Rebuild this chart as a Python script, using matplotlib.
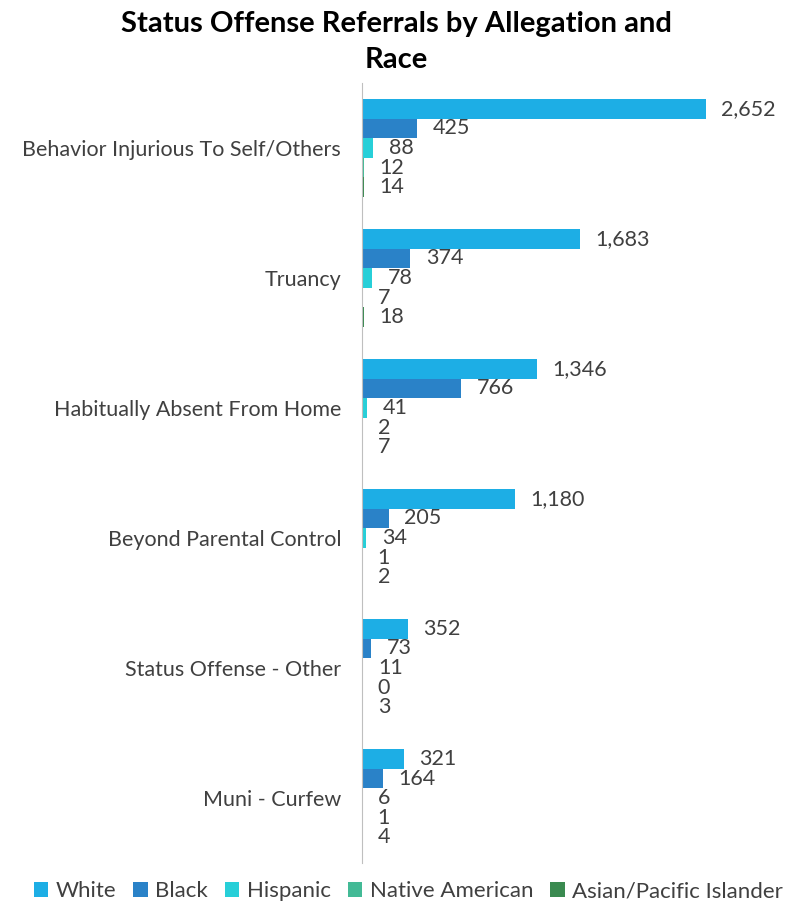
import matplotlib.pyplot as plt
import numpy as np

plt.rcParams['font.family'] = ['Lato', 'DejaVu Sans']

allegations = ['Behavior Injurious To Self/Others', 'Truancy',
               'Habitually Absent From Home', 'Beyond Parental Control',
               'Status Offense - Other', 'Muni - Curfew']
races = ['White', 'Black', 'Hispanic', 'Native American',
         'Asian/Pacific Islander']
white = [2652, 1683, 1346, 1180, 352, 321]
black = [425, 374, 766, 205, 73, 164]
hispanic = [88, 78, 41, 34, 11, 6]
native_american = [12, 7, 2, 1, 0, 1]
asian_pi = [14, 18, 7, 2, 3, 4]
colors = ['#1DAEE5', '#2A82C8', '#27CFD8', '#43BA96', '#3A8A50']

series = [white, black, hispanic, native_american, asian_pi]

fig = plt.figure(figsize=(7.93, 9.05), dpi=100)
ax = fig.add_axes([362 / 793, 1 - 863 / 905, (751 - 362) / 793, 780 / 905])

y = np.arange(len(allegations))
h = 0.15
for i, (name, vals, c) in enumerate(zip(races, series, colors)):
    pos = y - 0.3 + i * h
    ax.barh(pos, vals, height=h, color=c, label=name)
    for p, v in zip(pos, vals):
        ax.annotate(f'{v:,}', (v, p), xytext=(11, 0), textcoords='offset points',
                    va='center', ha='left', fontsize=15.5, color='#404040')

ax.set_xlim(0, 3000)
ax.set_ylim(len(allegations) - 0.5, -0.5)
ax.set_yticks(y)
ax.set_yticklabels(allegations, fontsize=15.5, color='#404040')
ax.tick_params(axis='y', length=0, pad=15)
ax.set_xticks([])
for s in ['top', 'right', 'bottom']:
    ax.spines[s].set_visible(False)
ax.spines['left'].set_color('#BFBFBF')

fig.text(0.5, 0.988, 'Status Offense Referrals by Allegation and\nRace',
         ha='center', va='top', fontsize=21, fontweight='bold',
         linespacing=1.5)

fig.legend(loc='lower center', bbox_to_anchor=(0.515, -0.018), ncol=5,
           frameon=False, fontsize=16, handlelength=0.65, handleheight=0.65,
           handletextpad=0.35, columnspacing=0.75, labelcolor='#404040')

fig.savefig('out.png', dpi=100)
